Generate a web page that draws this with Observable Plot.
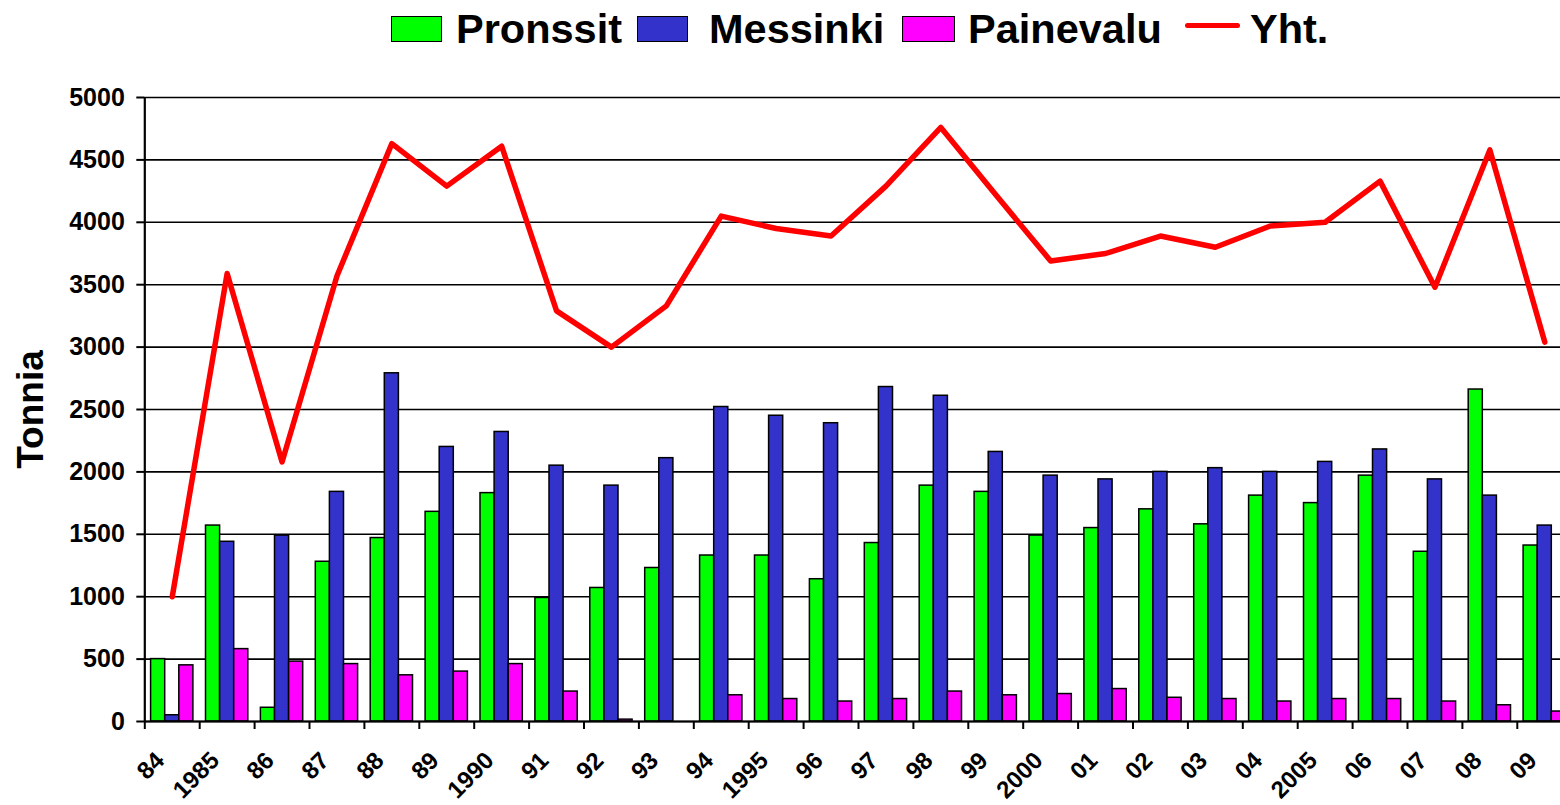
<!DOCTYPE html>
<html>
<head>
<meta charset="utf-8">
<script src="https://cdn.jsdelivr.net/npm/d3@7"></script>
<script src="https://cdn.jsdelivr.net/npm/@observablehq/plot@0.6"></script>
<style>
  html, body { margin: 0; padding: 0; background: #fff; overflow: hidden; }
  body { font-family: "Liberation Sans", Arial, sans-serif; }
  #legend { position: relative; width: 1560px; height: 60px; }
  #legend .sw { position: absolute; box-sizing: border-box; border: 1.5px solid #000; }
  #legend .tx { position: absolute; font-weight: bold; font-size: 41.5px; line-height: 40px; color: #000; white-space: nowrap; }
  #legend .ln { position: absolute; height: 5px; background: #ff0000; border-radius: 3px; }
</style>
</head>
<body>
<div id="legend"></div>
<div id="chart"></div>
<script>
const years = ["84","1985","86","87","88","89","1990","91","92","93","94","1995","96","97","98","99","2000","01","02","03","04","2005","06","07","08","09"];
const pronssit = [500,1570,110,1280,1470,1680,1830,990,1070,1230,1330,1330,1140,1430,1890,1840,1490,1550,1700,1580,1810,1750,1970,1360,2660,1410];
const messinki = [50,1440,1490,1840,2790,2200,2320,2050,1890,2110,2520,2450,2390,2680,2610,2160,1970,1940,2000,2030,2000,2080,2180,1940,1810,1570];
const painevalu = [450,580,480,460,370,400,460,240,15,0,210,180,160,180,240,210,220,260,190,180,160,180,180,160,130,80];
const yht = [1000,3590,2080,3570,4630,4290,4610,3290,3000,3330,4050,3950,3890,4290,4760,4220,3690,3750,3890,3800,3970,4000,4330,3480,4580,3040];
const yTicks = [0,500,1000,1500,2000,2500,3000,3500,4000,4500,5000];
const seriesNames = ["Pronssit","Messinki","Painevalu","Yht."];
const seriesColors = ["#00ff00","#3333cc","#ff00ff","#ff0000"];

const rows = years.map((year, i) => ({year, pronssit: pronssit[i], messinki: messinki[i], painevalu: painevalu[i], yht: yht[i]}));

// Legend (HTML above the SVG)
const legend = document.getElementById("legend");
const legendItems = [
  {kind: "sw", x: 391, w: 51, text: 456},
  {kind: "sw", x: 637, w: 51, text: 709},
  {kind: "sw", x: 902, w: 53, text: 968},
  {kind: "ln", x: 1185, w: 55, text: 1250}
];
legendItems.forEach((it, i) => {
  const m = document.createElement("div");
  if (it.kind === "sw") {
    m.className = "sw";
    m.style.left = it.x + "px"; m.style.top = "16px"; m.style.width = it.w + "px"; m.style.height = "26px";
    m.style.background = seriesColors[i];
  } else {
    m.className = "ln";
    m.style.left = it.x + "px"; m.style.top = "23px"; m.style.width = it.w + "px";
  }
  legend.appendChild(m);
  const t = document.createElement("div");
  t.className = "tx";
  t.style.left = it.text + "px"; t.style.top = "9px";
  t.textContent = seriesNames[i];
  legend.appendChild(t);
});

const W = 1560, H = 745;
const x0 = 144.3, x1 = 1571.7;
const bw = (x1 - x0) / years.length;
const barW = 14.1;
const edge = (bw - 3 * barW) / 2;

const font = "Liberation Sans, Arial, sans-serif";
const chart = Plot.plot({
  width: W,
  height: H,
  marginTop: 37,
  marginBottom: 84,
  marginLeft: x0,
  marginRight: 0,
  style: {fontFamily: font, background: "#fff", overflow: "visible"},
  x: {type: "band", domain: years, range: [x0, x1], padding: 0, round: false, label: null},
  y: {domain: [0, 5000], label: null},
  marks: [
    Plot.gridY(yTicks, {stroke: "#000", strokeOpacity: 1, strokeWidth: 1.6}),
    Plot.barY(rows, {x: "year", y: "pronssit", fill: seriesColors[0], stroke: "#000", strokeWidth: 1.5, insetLeft: edge, insetRight: bw - edge - barW}),
    Plot.barY(rows, {x: "year", y: "messinki", fill: seriesColors[1], stroke: "#000", strokeWidth: 1.5, insetLeft: edge + barW, insetRight: edge + barW}),
    Plot.barY(rows, {x: "year", y: "painevalu", fill: seriesColors[2], stroke: "#000", strokeWidth: 1.5, insetLeft: bw - edge - barW, insetRight: edge}),
    Plot.ruleY([0], {stroke: "#000", strokeWidth: 2}),
    Plot.line(rows, {x: "year", y: "yht", stroke: seriesColors[3], strokeWidth: 5.5, strokeLinejoin: "round", strokeLinecap: "round"}),
    Plot.ruleX([years[0]], {y1: 0, y2: 5000, dx: -bw / 2, stroke: "#000", strokeWidth: 2.2}),
    Plot.axisY({ticks: yTicks, tickSize: 8, tickPadding: 12, tickFormat: d => String(d), fontSize: 25, fontWeight: "bold", stroke: "#000", strokeWidth: 2, label: null, color: "#000"}),
    Plot.axisX({tickSize: 8, tickFormat: () => "", dx: -bw / 2, strokeWidth: 2, label: null}),
    Plot.axisX({tickSize: 0, tickPadding: 0, tickRotate: -45, textAnchor: "end", lineAnchor: "middle", fontSize: 24, fontWeight: "bold", dx: -12, dy: 35, label: null, fill: "#000"}),
    Plot.text(["Tonnia"], {frameAnchor: "left", rotate: -90, dx: -114, fontSize: 37, fontWeight: "bold", fill: "#000", lineAnchor: "middle", textAnchor: "middle"})
  ]
});
document.getElementById("chart").appendChild(chart);
</script>
</body>
</html>
